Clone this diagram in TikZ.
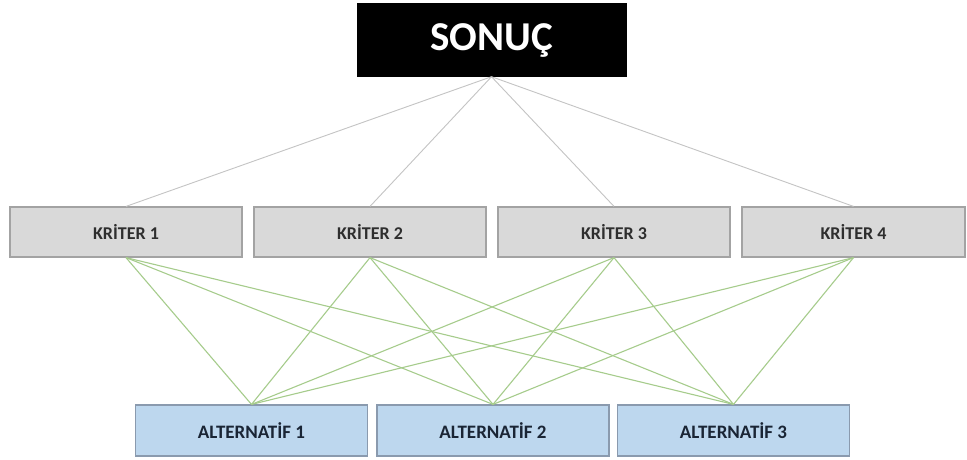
\documentclass[tikz,border=0pt]{standalone}
\usepackage{fontspec}
\setmainfont{Carlito}
\definecolor{krfill}{HTML}{D9D9D9}
\definecolor{krline}{HTML}{A3A3A3}
\definecolor{krtext}{HTML}{2E2E2E}
\definecolor{alfill}{HTML}{BDD7EE}
\definecolor{alline}{HTML}{8A9AAE}
\definecolor{altext}{HTML}{1A2535}
\definecolor{toplink}{HTML}{C4C4C4}
\definecolor{sublink}{HTML}{A6CC8C}
\begin{document}
\begin{tikzpicture}[x=1pt,y=-1pt,
  goalbox/.style={draw=black,fill=black,minimum width=269pt,minimum height=73pt,
    text=white,font=\fontsize{41}{41}\selectfont\bfseries,inner sep=0pt},
  critbox/.style={draw=krline,fill=krfill,line width=1.2pt,minimum width=232pt,minimum height=50pt,
    text=krtext,font=\fontsize{18}{18}\selectfont\bfseries,inner sep=0pt},
  altbox/.style={draw=alline,fill=alfill,line width=1.2pt,minimum width=232pt,minimum height=51pt,
    text=altext,font=\fontsize{19}{19}\selectfont\bfseries,inner sep=0pt},
  toplinkstyle/.style={draw=toplink,line width=0.9pt},
  sublinkstyle/.style={draw=sublink,line width=1.1pt}]
\useasboundingbox (0,0) rectangle (967,459);
\fill[white] (0,0) rectangle (967,459);

% goal
\node[goalbox] (goal) at (491.5,40) {SONUÇ};

% criteria
\node[critbox] (k1) at (126,232) {KRİTER 1};
\node[critbox] (k2) at (370,232) {KRİTER 2};
\node[critbox] (k3) at (614,232) {KRİTER 3};
\node[critbox,minimum width=223pt] (k4) at (853.5,232) {KRİTER 4};

% alternatives
\node[altbox] (a1) at (251.5,430.5) {ALTERNATİF 1};
\node[altbox] (a2) at (493,430.5) {ALTERNATİF 2};
\node[altbox] (a3) at (733.5,430.5) {ALTERNATİF 3};

% goal to criteria
\foreach \k in {k1,k2,k3,k4}
  \draw[toplinkstyle] (goal.south) -- (\k.north);
% criteria to alternatives
\foreach \k in {k1,k2,k3,k4}
  \foreach \a in {a1,a2,a3}
    \draw[sublinkstyle] (\k.south) -- (\a.north);
\end{tikzpicture}
\end{document}
